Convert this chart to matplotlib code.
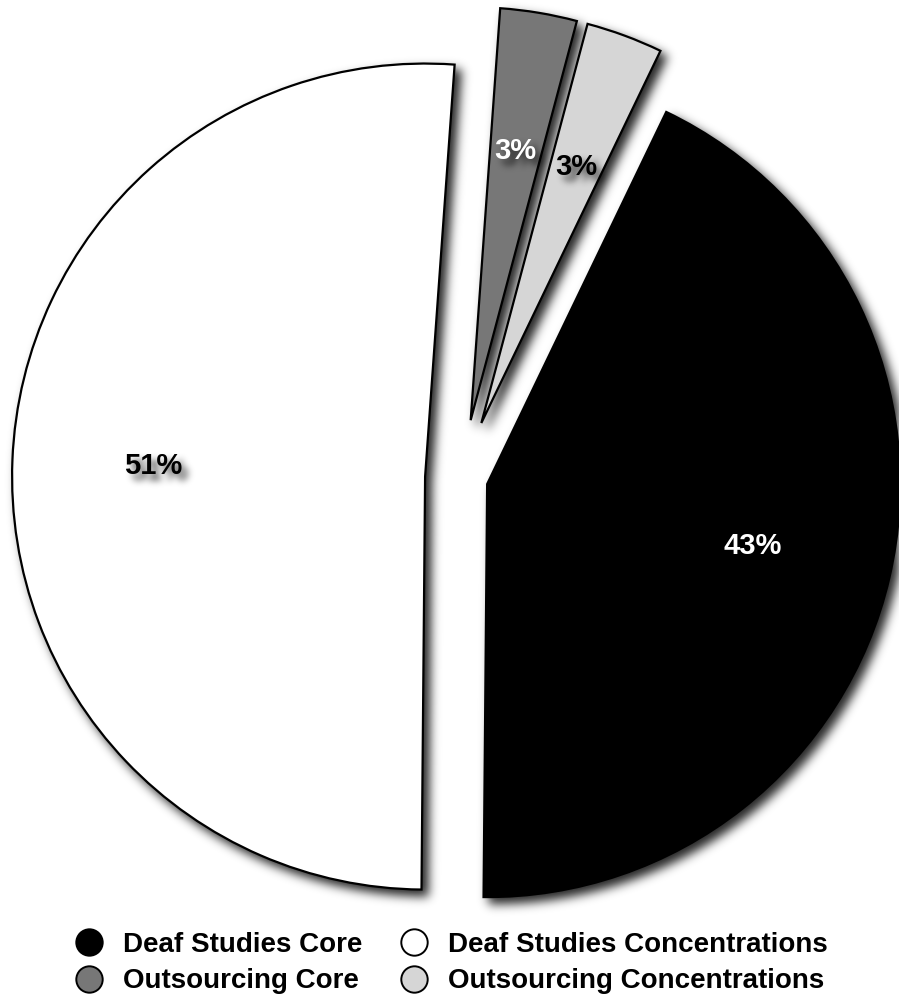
import numpy as np
import matplotlib
matplotlib.use("Agg")
import matplotlib.pyplot as plt
from matplotlib.lines import Line2D

# ---- data -------------------------------------------------------------
categories = ["Deaf Studies Concentrations", "Outsourcing Core",
              "Outsourcing Concentrations", "Deaf Studies Core"]
shares = [51, 3, 3, 43]
slice_colors = ["#ffffff", "#777777", "#d6d6d6", "#000000"]
label_colors = ["black", "white", "black", "white"]
explode = [0.087, 0.142, 0.142, 0.065]

legend_order = ["Deaf Studies Core", "Outsourcing Core",
                "Deaf Studies Concentrations", "Outsourcing Concentrations"]

# ---- layout -----------------------------------------------------------
W, H, DPI = 899, 994, 100
CX, CY, R = 461, 478, 413          # pie centre and radius in pixels
XLIM = (-CX / R, (W - CX) / R)
YLIM = (-(H - CY) / R, CY / R)
FONT = "Liberation Sans"

SHADOW_DX, SHADOW_DY, SHADOW_SIGMA, SHADOW_ALPHA = 6, 6, 5.0, 0.85


def new_canvas():
    fig = plt.figure(figsize=(W / DPI, H / DPI), dpi=DPI)
    ax = fig.add_axes([0, 0, 1, 1])
    return fig, ax


def draw_pie(ax, mono=False):
    wedges, _, autotexts = ax.pie(
        shares,
        colors=["black"] * 4 if mono else slice_colors,
        explode=explode,
        startangle=269.5,
        counterclock=False,
        radius=1.0,
        autopct=lambda p: f"{p:.0f}%",
        pctdistance=0.66,
        wedgeprops=dict(edgecolor="black", linewidth=1.6),
        textprops=dict(fontsize=21, fontweight="bold", family=FONT),
    )
    ax.set_xlim(*XLIM)
    ax.set_ylim(*YLIM)
    ax.set_aspect("equal")
    ax.axis("off")
    return wedges, autotexts


def mask_of(kind):
    """Render wedges or labels in black on white and return coverage."""
    fig, ax = new_canvas()
    wedges, texts = draw_pie(ax, mono=True)
    if kind == "wedges":
        for t in texts:
            t.set_visible(False)
    else:
        for w in wedges:
            w.set_visible(False)
        for t in texts:
            t.set_color("black")
    fig.canvas.draw()
    img = np.asarray(fig.canvas.buffer_rgba())[..., 0].astype(float) / 255.0
    plt.close(fig)
    return 1.0 - img


def shift(a, dy, dx):
    out = np.zeros_like(a)
    h, w = a.shape
    out[dy:, dx:] = a[:h - dy, :w - dx]
    return out


def blur(a, sigma):
    r = int(3 * sigma)
    k = np.exp(-0.5 * (np.arange(-r, r + 1) / sigma) ** 2)
    k /= k.sum()
    p = np.pad(a, r)
    out = np.zeros_like(p)
    for i, kv in enumerate(k):
        out += kv * np.roll(p, i - r, axis=0)
    p = out
    out = np.zeros_like(p)
    for i, kv in enumerate(k):
        out += kv * np.roll(p, i - r, axis=1)
    return out[r:-r, r:-r]


def shadow_rgba(mask, alpha, sigma):
    m = blur(shift(mask, SHADOW_DY, SHADOW_DX), sigma)
    rgba = np.zeros(m.shape + (4,))
    rgba[..., 3] = np.clip(m * alpha, 0, 1)
    return rgba


wedge_shadow = shadow_rgba(mask_of("wedges"), SHADOW_ALPHA, SHADOW_SIGMA)
text_shadow = shadow_rgba(mask_of("texts"), 0.75, 3.5)

# ---- final figure -----------------------------------------------------
fig, ax = new_canvas()
fig.patch.set_facecolor("white")
wedges, autotexts = draw_pie(ax)
for t, c in zip(autotexts, label_colors):
    t.set_color(c)
    t.set_zorder(3)

extent = (XLIM[0], XLIM[1], YLIM[0], YLIM[1])
ax.imshow(wedge_shadow, extent=extent, origin="upper", aspect="auto",
          zorder=0.5, interpolation="nearest")
ax.imshow(text_shadow, extent=extent, origin="upper", aspect="auto",
          zorder=2, interpolation="nearest")
ax.set_xlim(*XLIM)
ax.set_ylim(*YLIM)

color_of = dict(zip(categories, slice_colors))
handles = [Line2D([], [], linestyle="none", marker="o", markersize=19,
                  markerfacecolor=color_of[name], markeredgecolor="black",
                  markeredgewidth=1.4, label=name)
           for name in legend_order]
fig.legend(handles=handles, loc="center", bbox_to_anchor=(0.5022, 0.0312),
           ncol=2, frameon=False, handlelength=1.0, handletextpad=0.74,
           columnspacing=1.35, labelspacing=0.38,
           prop=dict(family=FONT, weight="bold", size=20))

fig.savefig("out.png", dpi=DPI, facecolor="white")
